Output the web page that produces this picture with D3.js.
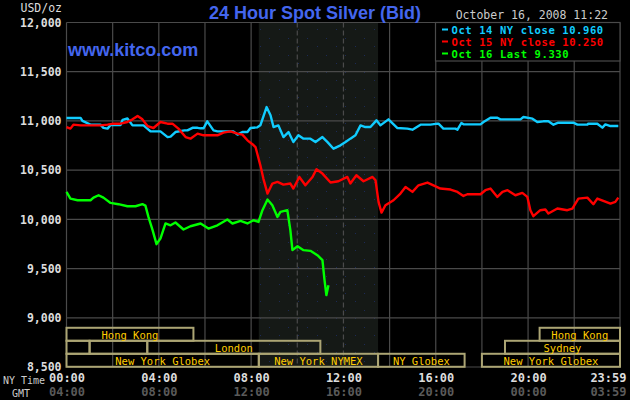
<!DOCTYPE html>
<html>
<head>
<meta charset="utf-8">
<script src="https://cdn.jsdelivr.net/npm/d3@7"></script>
<style>
  body { margin: 0; background: #000; }
  svg { display: block; }
</style>
</head>
<body>
<div id="chart"></div>
<script>
// ---- data (hours in NY time, price in USD/oz x 1000) ----
var yTicks = [8500, 9000, 9500, 10000, 10500, 11000, 11500, 12000];
var xTicks = [0, 4, 8, 12, 16, 20, 23 + 59 / 60];
var nyLabels = ["00:00", "04:00", "08:00", "12:00", "16:00", "20:00", "23:59"];
var gmtLabels = ["04:00", "08:00", "12:00", "16:00", "20:00", "00:00", "03:59"];
var gridHours = [0, 2, 4, 6, 8, 10, 12, 14, 16, 18, 20, 22, 23 + 59 / 60];
var nymexHours = [8 + 20 / 60, 13.5];

var legendLabels = ["Oct 14 NY close 10.960", "Oct 15 NY close 10.250", "Oct 16 Last 9.330"];

var oct14 = [[0, 11030], [0.61, 11030], [0.69, 11000], [1.04, 10962], [1.47, 10962], [1.6, 10930], [1.78, 10922],
  [1.91, 10958], [2.34, 10958], [2.43, 11010], [2.64, 11025], [2.86, 10955], [3.34, 10955], [3.64, 10894],
  [4.07, 10894], [4.38, 10836], [4.51, 10840], [4.72, 10887], [5.11, 10904], [5.24, 10904], [5.46, 10930],
  [5.68, 10930], [5.81, 10925], [5.94, 10925], [6.1, 10996], [6.37, 10904], [6.54, 10894], [7.23, 10894],
  [7.41, 10861], [7.62, 10887], [7.84, 10887], [7.97, 10928], [8.27, 10935], [8.4, 10955], [8.67, 11141],
  [8.84, 11057], [8.97, 10938], [9.18, 10955], [9.4, 10836], [9.62, 10887], [9.83, 10785], [10.05, 10854],
  [10.27, 10820], [10.57, 10820], [10.79, 10785], [11.09, 10836], [11.31, 10785], [11.57, 10718], [11.87, 10752],
  [12.09, 10785], [12.3, 10820], [12.52, 10854], [12.74, 10955], [12.95, 10938], [13.17, 10938], [13.43, 11006],
  [13.6, 10955], [13.95, 11016], [14.34, 10928], [14.77, 10922], [14.99, 10911], [15.34, 10962], [15.77, 10962],
  [16.07, 10972], [16.12, 10972], [16.33, 10922], [16.85, 10922], [16.94, 10911], [17.11, 10979], [17.2, 10965],
  [17.94, 10965], [18.07, 10989], [18.37, 11033], [18.67, 11033], [18.8, 11016], [19.67, 11016], [19.8, 11040],
  [20.19, 11023], [20.4, 10989], [20.66, 10996], [20.88, 10996], [21.1, 10962], [21.31, 10982], [21.96, 10982],
  [22.14, 10962], [22.57, 10962], [22.61, 10972], [23.0, 10972], [23.22, 10932], [23.35, 10965], [23.57, 10948],
  [23.91, 10948]];

var oct15 = [[0, 10938], [0.17, 10922], [0.3, 10962], [0.61, 10955], [1.47, 10955], [1.78, 10962], [2.04, 10972],
  [2.34, 10972], [2.64, 10989], [2.86, 11016], [3.08, 11050], [3.29, 11016], [3.51, 10948], [3.77, 10928],
  [4.07, 10989], [4.38, 10972], [4.59, 10972], [4.85, 10922], [5.16, 10836], [5.37, 10820], [5.68, 10871],
  [5.94, 10854], [6.54, 10854], [6.8, 10881], [7.1, 10894], [7.41, 10871], [7.62, 10861], [7.84, 10803],
  [8.1, 10755], [8.19, 10735], [8.4, 10549], [8.53, 10414], [8.71, 10262], [8.92, 10364], [9.14, 10380],
  [9.4, 10353], [9.7, 10364], [9.83, 10313], [10.09, 10431], [10.35, 10346], [10.66, 10431], [10.83, 10509],
  [11.09, 10465], [11.44, 10374], [11.78, 10387], [12.17, 10431], [12.3, 10364], [12.56, 10448], [12.87, 10387],
  [13.26, 10431], [13.39, 10397], [13.52, 10177], [13.65, 10069], [13.82, 10143], [14.17, 10194], [14.47, 10262],
  [14.69, 10329], [14.99, 10279], [15.25, 10346], [15.64, 10374], [15.9, 10346], [16.2, 10313], [16.64, 10303],
  [16.94, 10279], [17.2, 10238], [17.37, 10255], [17.94, 10255], [18.15, 10296], [18.37, 10313], [18.67, 10228],
  [18.89, 10279], [19.11, 10296], [19.45, 10245], [19.75, 10269], [19.97, 10228], [20.1, 10093], [20.23, 10032],
  [20.53, 10093], [20.75, 10100], [20.88, 10059], [21.27, 10110], [21.7, 10093], [21.92, 10110], [22.18, 10211],
  [22.57, 10221], [22.83, 10154], [23.0, 10211], [23.26, 10187], [23.57, 10160], [23.78, 10177], [23.91, 10221]];

var oct16 = [[0, 10279], [0.17, 10211], [0.48, 10194], [1.04, 10194], [1.17, 10221], [1.39, 10245], [1.6, 10221],
  [1.91, 10167], [2.25, 10154], [2.64, 10133], [2.99, 10133], [3.29, 10154], [3.42, 10140], [3.55, 10025],
  [3.73, 9890], [3.9, 9748], [4.07, 9805], [4.29, 9958], [4.51, 9940], [4.72, 9968], [5.07, 9897], [5.37, 9930],
  [5.81, 9958], [6.15, 9907], [6.54, 9940], [6.97, 9998], [7.19, 9958], [7.54, 9984], [7.84, 9958], [8.1, 9991],
  [8.32, 9974], [8.49, 10093], [8.71, 10201], [8.92, 10143], [9.14, 10025], [9.27, 10076], [9.57, 10093],
  [9.7, 9890], [9.79, 9687], [10.01, 9727], [10.27, 9687], [10.57, 9680], [10.87, 9636], [11.09, 9585],
  [11.18, 9383], [11.26, 9230], [11.35, 9330]];

// trading sessions: [name, row, start hour, end hour]
var sessions = [
  ["Hong Kong", 0, 0, 5.5], ["Hong Kong", 0, 20.5, 24],
  ["", 1, 0, 1], ["", 1, 1, 3.5], ["London", 1, 3.5, 11], ["Sydney", 1, 19, 24],
  ["New York Globex", 2, 0, 8 + 20 / 60], ["New York NYMEX", 2, 8 + 20 / 60, 13.5],
  ["NY Globex", 2, 13.5, 17.25], ["New York Globex", 2, 18, 24]
];

var seriesColors = ["#11ccff", "#ff0000", "#00ff00"];

// ---- chart ----
var attrs = { svgWidth: 630, svgHeight: 400, left: 66.5, right: 620, top: 22.5, bottom: 367 };
var mono = "'DejaVu Sans Mono', monospace";

var svg = d3.select('#chart').append('svg')
  .attr('width', attrs.svgWidth)
  .attr('height', attrs.svgHeight)
  .style('background', '#000');

var x = d3.scaleLinear().domain([0, 23 + 59 / 60]).range([attrs.left, attrs.right]);
var y = d3.scaleLinear().domain([8500, 12000]).range([attrs.bottom, attrs.top]);

// dotted texture for nymex shading
var pat = svg.append('defs').append('pattern')
  .attr('id', 'dots').attr('width', 19).attr('height', 17).attr('patternUnits', 'userSpaceOnUse');
pat.append('rect').attr('width', 19).attr('height', 17).attr('fill', '#151916');
pat.append('rect').attr('x', 3).attr('y', 4).attr('width', 1).attr('height', 1).attr('fill', '#1c2a55');
pat.append('rect').attr('x', 13).attr('y', 12).attr('width', 1).attr('height', 1).attr('fill', '#1c2a55');

svg.append('rect')
  .attr('x', x(nymexHours[0])).attr('y', attrs.top)
  .attr('width', x(nymexHours[1]) - x(nymexHours[0]))
  .attr('height', attrs.bottom - attrs.top)
  .attr('fill', 'url(#dots)');

// grid
var grid = svg.append('g');
grid.selectAll('.hline').data(yTicks).enter().append('line')
  .attr('x1', attrs.left).attr('x2', attrs.right)
  .attr('y1', function (d) { return y(d); }).attr('y2', function (d) { return y(d); })
  .attr('stroke', '#4a4a4a').attr('stroke-width', 1.2);
grid.selectAll('.vline').data(gridHours).enter().append('line')
  .attr('x1', function (d) { return x(d); }).attr('x2', function (d) { return x(d); })
  .attr('y1', attrs.top).attr('y2', attrs.bottom)
  .attr('stroke', '#4a4a4a').attr('stroke-width', 1.2)
  .attr('stroke-dasharray', function (d) {
    return (d > nymexHours[0] && d < nymexHours[1]) ? '5,3' : null;
  });

// session bands
var rowH = 13;
var band = svg.append('g');
var rowTop = function (r) { return y(9000) + 10 + r * rowH; };
band.selectAll('rect').data(sessions).enter().append('rect')
  .attr('x', function (d) { return x(d[2]); })
  .attr('y', function (d) { return rowTop(d[1]); })
  .attr('width', function (d) { return Math.min(x(d[3]), attrs.right) - x(d[2]); })
  .attr('height', rowH)
  .attr('fill', 'none')
  .attr('stroke', '#aca574').attr('stroke-width', 2);
band.selectAll('text').data(sessions).enter().append('text')
  .attr('x', function (d) { return (x(d[2]) + Math.min(x(d[3]), attrs.right)) / 2; })
  .attr('y', function (d) { return rowTop(d[1]) + rowH / 2 + 0.5; })
  .attr('text-anchor', 'middle').attr('dominant-baseline', 'central')
  .attr('fill', '#ffcc00')
  .style('font-family', mono).style('font-size', '10.5px')
  .text(function (d) { return d[0]; });

// lines
var line = d3.line()
  .x(function (d) { return x(d[0]); })
  .y(function (d) { return y(d[1]); });

[oct14, oct15, oct16].forEach(function (s, i) {
  svg.append('path')
    .datum(s)
    .attr('d', line)
    .attr('fill', 'none')
    .attr('stroke', seriesColors[i])
    .attr('stroke-width', 2.4)
    .attr('stroke-linejoin', 'round');
});

// y axis labels
var yAxis = d3.axisLeft(y).tickValues(yTicks).tickSize(0).tickPadding(5).tickFormat(d3.format(','));
var yg = svg.append('g').attr('transform', 'translate(' + attrs.left + ',0)').call(yAxis);
yg.select('.domain').remove();
yg.selectAll('text').attr('fill', '#dddddd')
  .style('font-family', mono).style('font-size', '11.5px').style('font-weight', 'bold');

svg.append('text').attr('x', 62).attr('y', 12).attr('text-anchor', 'end')
  .attr('fill', '#dddddd').style('font-family', mono).style('font-size', '11.5px')
  .text('USD/oz');

// x axis labels (last one kept inside the window)
function styleTimeAxis(g, color) {
  g.select('.domain').remove();
  g.selectAll('text').attr('fill', color)
    .style('font-family', mono).style('font-size', '12px').style('font-weight', 'bold');
  g.selectAll('.tick').filter(function (d, i) { return i === xTicks.length - 1; })
    .select('text').attr('text-anchor', 'end').attr('dx', 6);
}

var xAxisNY = d3.axisBottom(x).tickValues(xTicks).tickSize(0).tickPadding(6)
  .tickFormat(function (d, i) { return nyLabels[i]; });
var xg1 = svg.append('g').attr('transform', 'translate(0,' + attrs.bottom + ')').call(xAxisNY);
styleTimeAxis(xg1, '#dddddd');

var xAxisGMT = d3.axisBottom(x).tickValues(xTicks).tickSize(0).tickPadding(20)
  .tickFormat(function (d, i) { return gmtLabels[i]; });
var xg2 = svg.append('g').attr('transform', 'translate(0,' + attrs.bottom + ')').call(xAxisGMT);
styleTimeAxis(xg2, '#5a5a5a');

svg.append('text').attr('x', 3).attr('y', 384)
  .attr('fill', '#cccccc').style('font-family', mono).style('font-size', '10px')
  .text('NY Time');
svg.append('text').attr('x', 12).attr('y', 397)
  .attr('fill', '#cccccc').style('font-family', mono).style('font-size', '10px')
  .text('GMT');

// titles
svg.append('text').attr('x', 315).attr('y', 19).attr('text-anchor', 'middle')
  .attr('fill', '#4466ee')
  .style('font-family', "'Liberation Sans', Arial, sans-serif").style('font-size', '18px').style('font-weight', 'bold')
  .text('24 Hour Spot Silver (Bid)');

svg.append('text').attr('x', 68).attr('y', 56)
  .attr('fill', '#4466ee')
  .style('font-family', "'Liberation Sans', Arial, sans-serif").style('font-size', '18px').style('font-weight', 'bold')
  .text('www.kitco.com');

svg.append('text').attr('x', 608).attr('y', 19).attr('text-anchor', 'end')
  .attr('fill', '#cccccc').style('font-family', mono).style('font-size', '11.5px')
  .text('October 16, 2008 11:22');

// legend
var lg = svg.append('g');
lg.append('rect').attr('x', 435.5).attr('y', attrs.top).attr('width', attrs.right - 435.5).attr('height', 38.5)
  .attr('fill', '#000').attr('stroke', '#4a4a4a').attr('stroke-width', 1.2);
legendLabels.forEach(function (t, i) {
  var ly = 29.5 + i * 12;
  lg.append('line').attr('x1', 442).attr('x2', 448).attr('y1', ly).attr('y2', ly)
    .attr('stroke', seriesColors[i]).attr('stroke-width', 2);
  lg.append('text').attr('x', 451.5).attr('y', ly).attr('dominant-baseline', 'central')
    .attr('fill', seriesColors[i])
    .style('font-family', mono).style('font-size', '10.5px').style('font-weight', 'bold')
    .style('letter-spacing', '0.6px')
    .text(t);
});
</script>
</body>
</html>
